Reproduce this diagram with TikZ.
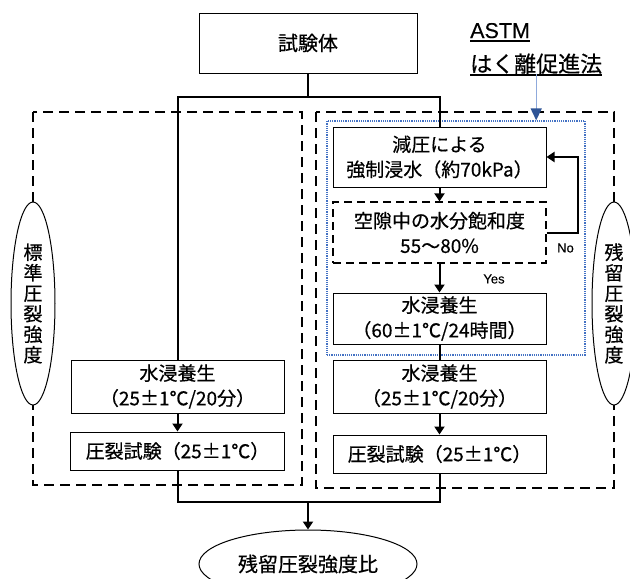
\documentclass[tikz,border=0pt]{standalone}
\usepackage{fontspec}
\setmainfont{Noto Sans CJK JP}[FakeBold=0.5]
\newfontfamily\latfont{Liberation Sans}[FakeBold=0.3]
\usetikzlibrary{arrows.meta,shapes.geometric}
\definecolor{dotblue}{RGB}{68,114,196}
\definecolor{arrline}{RGB}{143,170,220}
\definecolor{arrhead}{RGB}{47,85,151}
\newcommand\bxfont{\fontsize{19}{25}\selectfont}
\newcommand\myul[1]{\setbox0\hbox{#1}\rlap{\rule[-3.5pt]{\wd0}{1.6pt}}\box0}
\tikzset{
 box/.style={draw, line width=1pt, fill=white, minimum width=213pt, align=center, inner sep=0pt, font=\bxfont},
 grp/.style={line width=2.2pt, dash pattern=on 10pt off 6pt},
 conn/.style={line width=2pt},
 arr/.style={conn, -{Triangle[length=8pt,width=10pt]}},
 vov/.style={ellipse, draw, line width=1pt, fill=white, minimum width=44pt, minimum height=203pt, inner sep=0pt, align=center, font=\fontsize{19}{20.5}\selectfont},
 lbl/.style={font=\latfont\fontsize{13}{15}\selectfont, inner sep=0pt},
}
\begin{document}
\begin{tikzpicture}[x=1pt,y=-1pt]
\useasboundingbox (0,0) rectangle (630,579);
% group frames
\draw[grp] (33,112) rectangle (302,485);
\draw[grp] (316,112) rectangle (614,488);
\node[draw=dotblue, line width=1.2pt, dash pattern=on 1.2pt off 1pt, minimum width=258pt, minimum height=234pt, inner sep=0pt] (astmframe) at (456,238) {};
% boxes
\node[box, minimum width=218pt, minimum height=60pt, font=\fontsize{20}{25}\selectfont] (top) at (308,43) {試験体};
\node[box, minimum height=60pt] (r1) at (439.5,157) {減圧による\\強制浸水（約70kPa）};
\node[box, minimum height=61pt, dash pattern=on 8pt off 5pt, line width=1.3pt] (r2) at (439.5,232.5) {空隙中の水分飽和度\\55～80\%};
\node[box, minimum height=51pt] (r3) at (439.5,318.5) {水浸養生\\（60±1℃/24時間）};
\node[box, minimum height=53pt] (r4) at (439.5,386.5) {水浸養生\\（25±1℃/20分）};
\node[box, minimum height=38pt] (r5) at (439.5,454) {圧裂試験（25±1℃）};
\node[box, minimum height=53pt] (l4) at (177.5,386.5) {水浸養生\\（25±1℃/20分）};
\node[box, minimum height=38pt, minimum width=214pt] (l5) at (177.5,451) {圧裂試験（25±1℃）};
% ovals
\node[vov] (lo) at (33,303.5) {標\\準\\圧\\裂\\強\\度};
\node[vov] (ro) at (614,303.5) {残\\留\\圧\\裂\\強\\度};
\node[ellipse, draw, line width=1pt, fill=white, minimum width=218pt, minimum height=68pt, inner sep=0pt, font=\fontsize{20}{24}\selectfont] (res) at (308,564) {残留圧裂強度比};
% ASTM label
\node[anchor=base west, inner sep=0pt, font=\latfont\fontsize{21.5}{24}\selectfont] (astm1) at (470,38) {\myul{ASTM}};
\node[anchor=base west, inner sep=0pt, font=\fontsize{22}{26}\selectfont] (astm2) at (470,72) {\myul{はく離促進法}};
\draw[arrline, line width=1.4pt, -{Triangle[length=12pt,width=11pt,color=arrhead]}] (astm2.south) ++(0,-2) -- (astm2.south |- astmframe.north);
% connectors
\coordinate (j) at (308,97);
\coordinate (b) at (308,502);
\draw[conn] (top.south) -- (j);
\draw[conn] (l4.north) |- (j) -| (r1.north);
\draw[arr] (l4.south) -- (l5.north);
\draw[arr] (r1.south) -- (r2.north);
\draw[arr] (r2.south) -- (r3.north);
\draw[conn] (r3.south) -- (r4.north);
\draw[arr] (r4.south) -- (r5.north);
\draw[arr] (r2.east) -- ++(31,0) |- (r1.east);
\draw[conn] (l5.south) |- (b) -| (r5.south);
\draw[arr] (b) -- (res.north);
% labels
\node[lbl] (no) at (565.5,248) {No};
\node[lbl] (yes) at (494,279) {Yes};
\end{tikzpicture}
\end{document}
